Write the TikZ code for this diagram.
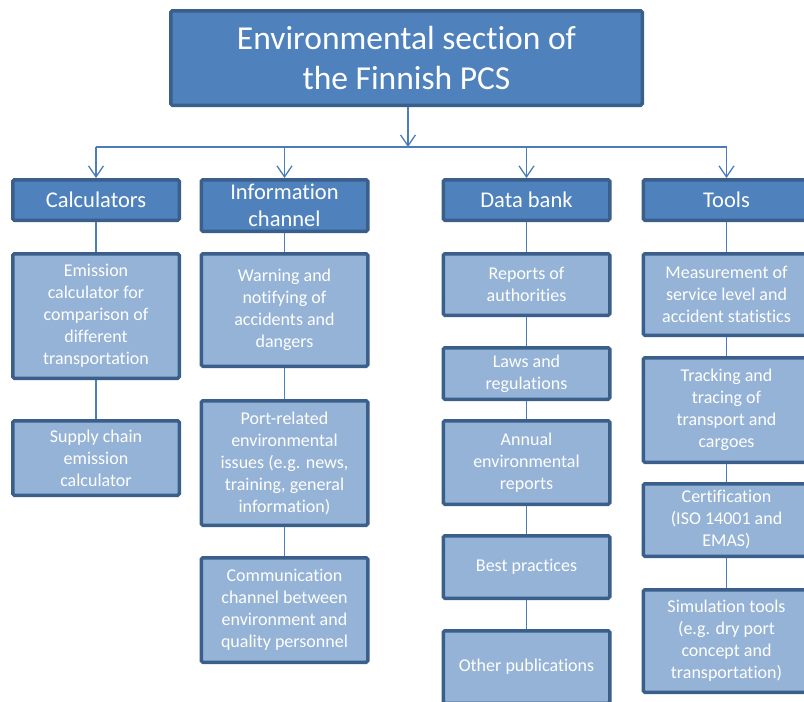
\documentclass[tikz,border=0pt]{standalone}
\usepackage{fontspec}
\setmainfont{Carlito}[Ligatures={NoCommon,NoRequired,NoContextual}]
\usetikzlibrary{arrows.meta}
\definecolor{darkfill}{HTML}{4F81BD}
\definecolor{lightfill}{HTML}{95B3D7}
\definecolor{edgecol}{HTML}{3A5F8B}
\definecolor{linkcol}{HTML}{4A7EBB}
\begin{document}
\begin{tikzpicture}[x=1pt,y=-1pt,
  box/.style={draw=edgecol, line width=3.5pt, rounded corners=1.5pt, inner sep=0pt,
    align=center, text=white, minimum width=166.5pt},
  head/.style={box, fill=darkfill, font=\fontsize{22.5}{27}\selectfont},
  item/.style={box, fill=lightfill, font=\fontsize{18}{22}\selectfont},
  conn/.style={draw=linkcol, line width=1.8pt},
  arr/.style={conn, -{Straight Barb[length=11pt,width=15pt,line width=1.3pt]}},
]
\useasboundingbox (0,0) rectangle (804,702);
\clip (0,0) rectangle (804,702);

% title
\node[box, fill=darkfill, minimum width=471.5pt, minimum height=94.5pt,
  font=\fontsize{33.5}{40}\selectfont] (title) at (406.5,58) {Environmental section of\\the Finnish PCS};

% level 1
\node[head, minimum height=40.5pt] (calc) at (96,200) {Calculators};
\node[head, minimum height=51.5pt] (info) at (284.5,205.5) {Information\\channel};
\node[head, minimum height=40.5pt] (data) at (526.5,200) {Data bank};
\node[head, minimum height=40.5pt] (tools) at (726.5,200) {Tools};

% calculators column
\node[item, minimum height=124.5pt] (emis) at (96,316) {Emission\\calculator for\\comparison of\\different\\transportation};
\node[item, minimum height=74.5pt] (supply) at (96,458) {Supply chain\\emission\\calculator};

% information channel column
\node[item, minimum height=112.5pt] (warn) at (284.5,310) {Warning and\\notifying of\\accidents and\\dangers};
\node[item, minimum height=124.5pt] (port) at (284.5,463) {Port-related\\environmental\\issues (e.g. news,\\training, general\\information)};
\node[item, minimum height=104.5pt] (comm) at (284.5,610) {Communication\\channel between\\environment and\\quality personnel};

% data bank column
\node[item, minimum height=61.5pt] (reports) at (526.5,284.5) {Reports of\\authorities};
\node[item, minimum height=51.5pt] (laws) at (526.5,373.5) {Laws and\\regulations};
\node[item, minimum height=83.5pt] (annual) at (526.5,462.5) {Annual\\environmental\\reports};
\node[item, minimum height=62.5pt] (best) at (526.5,567) {Best practices};
\node[item, minimum height=72.5pt] (other) at (526.5,667) {Other publications};

% tools column
\node[item, minimum height=81.5pt] (meas) at (726.5,294.5) {Measurement of\\service level and\\accident statistics};
\node[item, minimum height=104.5pt] (track) at (726.5,410) {Tracking and\\tracing of\\transport and\\cargoes};
\node[item, minimum height=72.5pt] (cert) at (726.5,520) {Certification\\(ISO 14001 and\\EMAS)};
\node[item, minimum height=102.5pt] (sim) at (726.5,641) {Simulation tools\\(e.g. dry port\\concept and\\transportation)};

% bus
\coordinate (bus) at (408,147);
\draw[conn] (calc.north |- bus) -- (tools.north |- bus);
\draw[arr] (title.south -| bus) -- (bus);
\foreach \n in {calc,info,data,tools}
  \draw[arr] (\n.north |- bus) -- (\n.north);

% column connectors
\draw[conn] (calc) -- (emis);
\draw[conn] (emis) -- (supply);
\draw[conn] (info) -- (warn);
\draw[conn] (warn) -- (port);
\draw[conn] (port) -- (comm);
\draw[conn] (data) -- (reports);
\draw[conn] (reports) -- (laws);
\draw[conn] (laws) -- (annual);
\draw[conn] (annual) -- (best);
\draw[conn] (best) -- (other);
\draw[conn] (tools) -- (meas);
\draw[conn] (meas) -- (track);
\draw[conn] (track) -- (cert);
\draw[conn] (cert) -- (sim);
\end{tikzpicture}
\end{document}
